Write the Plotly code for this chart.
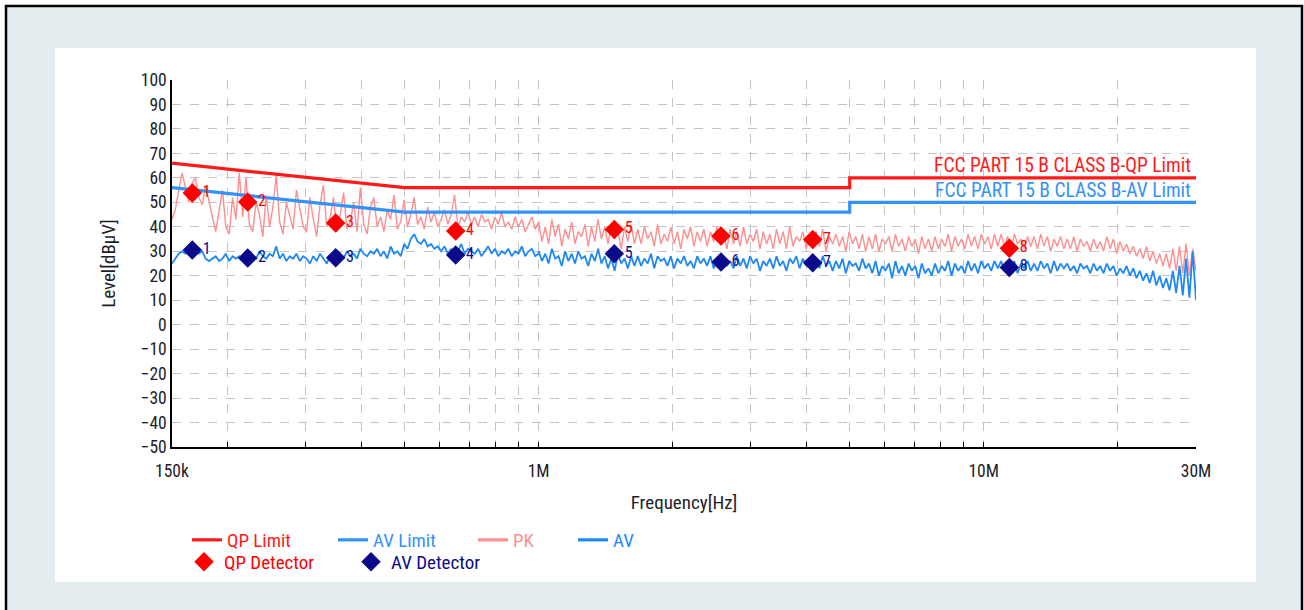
import numpy as np
import plotly.graph_objects as go

# ---------------- data ----------------
# limit lines (frequency in Hz, level in dBuV)
limit_freq = [150e3, 500e3, 5e6, 5e6, 30e6]
qp_limit = [66, 56, 56, 60, 60]
av_limit = [56, 46, 46, 50, 50]

# sweep grid: low band 150 kHz - 1 MHz, high band 1 MHz - 30 MHz
freq_low = np.geomspace(150e3, 1e6, 110)
freq_high = np.geomspace(1e6, 30e6, 200)

pk_low = [
    43, 47, 55, 62, 56, 50, 58, 60, 52, 49,
    57, 50, 44, 38, 46, 55, 40, 37, 52, 43,
    62, 44, 60, 41, 38, 50, 45, 36, 53, 40,
    48, 61, 42, 37, 50, 44, 39, 55, 47, 40,
    38, 52, 43, 36, 49, 57, 40, 44, 52, 38,
    45, 54, 39, 42, 50, 38, 56, 41, 37, 48,
    52, 40, 44, 38, 47, 43, 53, 39, 42, 51,
    40, 45, 52, 41, 44, 39, 48, 42, 46, 40,
    43, 47, 41, 45, 53, 40, 44, 42, 46, 41,
    44, 40, 45, 42, 43, 39, 44, 41, 46, 40,
    42, 39, 44, 40, 43, 38, 41, 44, 39, 42,
]
pk_high = [
    42, 34, 40, 33, 43, 36, 41, 32, 39, 35,
    42, 33, 38, 36, 41, 32, 40, 34, 43, 35,
    40, 33, 41, 35, 38, 31, 40, 34, 41, 33,
    39, 33, 40, 35, 38, 32, 41, 33, 37, 34,
    40, 33, 38, 31, 39, 35, 40, 32, 38, 34,
    39, 32, 38, 34, 40, 33, 37, 31, 39, 33,
    38, 32, 40, 33, 37, 34, 39, 31, 38, 33,
    37, 31, 39, 33, 38, 31, 40, 32, 36, 34,
    38, 31, 37, 33, 38, 32, 39, 30, 36, 33,
    37, 32, 36, 30, 38, 33, 36, 31, 37, 30,
    36, 31, 37, 30, 35, 33, 36, 30, 37, 32,
    35, 30, 36, 32, 35, 29, 36, 31, 35, 30,
    36, 31, 35, 32, 37, 30, 36, 32, 35, 31,
    37, 32, 36, 31, 37, 33, 36, 31, 37, 32,
    37, 32, 36, 30, 37, 33, 35, 31, 36, 32,
    36, 31, 37, 32, 36, 30, 35, 32, 36, 31,
    35, 31, 36, 30, 35, 32, 34, 30, 35, 31,
    34, 30, 36, 31, 35, 29, 34, 30, 33, 29,
    32, 28, 31, 27, 32, 26, 30, 25, 29, 24,
    29, 23, 31, 22, 32, 21, 33, 20, 31, 22,
]

av_low = [
    25, 27, 29, 30, 29, 30, 31, 30, 29, 30,
    27, 26, 27, 28, 26, 27, 29, 26, 28, 27,
    28, 27, 29, 26, 28, 27, 30, 28, 27, 29,
    28, 32, 27, 29, 26, 28, 27, 29, 26, 28,
    27, 25, 28, 26, 29, 27, 25, 28, 26, 27,
    29, 27, 30, 28, 29, 27, 31, 29, 28, 30,
    29, 31, 28, 30, 27, 32, 29, 30, 28, 33,
    31, 35, 37, 34, 33, 35, 32, 33, 31, 32,
    30, 32, 29, 31, 28, 30, 33, 29, 31, 30,
    29, 31, 28, 30, 32, 29, 31, 28, 30, 29,
    31, 28, 30, 29, 32, 28, 30, 31, 28, 29,
]
av_high = [
    30, 26, 29, 25, 31, 27, 28, 24, 30, 26,
    29, 25, 30, 27, 28, 24, 29, 26, 31, 25,
    28, 23, 27, 22, 29, 25, 27, 23, 28, 24,
    28, 24, 27, 25, 29, 23, 28, 26, 27, 24,
    28, 23, 27, 25, 28, 24, 26, 23, 28, 25,
    27, 24, 28, 23, 27, 25, 28, 24, 26, 23,
    28, 24, 27, 23, 28, 25, 27, 22, 26, 24,
    27, 23, 28, 24, 26, 22, 27, 25, 28, 23,
    27, 24, 26, 22, 27, 23, 28, 24, 26, 22,
    26, 23, 27, 21, 26, 24, 25, 22, 27, 23,
    25, 21, 26, 20, 24, 22, 25, 19, 26, 21,
    24, 20, 25, 22, 24, 19, 25, 21, 23, 20,
    25, 21, 24, 22, 26, 20, 25, 22, 24, 21,
    26, 22, 25, 21, 26, 23, 25, 22, 26, 23,
    26, 22, 25, 23, 26, 21, 25, 23, 26, 22,
    25, 22, 26, 23, 25, 21, 26, 22, 25, 23,
    25, 22, 24, 21, 25, 23, 24, 21, 25, 22,
    24, 21, 25, 22, 24, 20, 23, 21, 24, 20,
    23, 19, 22, 18, 21, 17, 22, 16, 20, 15,
    19, 14, 22, 13, 24, 12, 27, 11, 30, 10,
]

# final detector readings
det_freq = [166.6e3, 221.9e3, 349.9e3, 651e3, 1.479e6, 2.569e6, 4.129e6, 11.42e6]
qp_det = [53.8, 50.1, 41.6, 38.3, 38.9, 36.2, 34.8, 31.2]
av_det = [30.5, 27.2, 27.4, 28.5, 29.0, 25.6, 25.3, 23.4]
det_labels = ["1", "2", "3", "4", "5", "6", "7", "8"]

x_tickvals = [150e3, 200e3, 300e3, 400e3, 500e3, 600e3, 700e3, 800e3, 900e3,
              1e6, 2e6, 3e6, 4e6, 5e6, 6e6, 7e6, 8e6, 9e6, 10e6, 20e6, 30e6]
x_ticktext = ["150k", "", "", "", "", "", "", "", "",
              "1M", "", "", "", "", "", "", "", "", "10M", "", "30M"]
y_tickvals = list(range(-50, 101, 10))

# ---------------- style ----------------
FONT = "Liberation Sans Narrow, Arial Narrow, Roboto Condensed, Liberation Sans, Arial, sans-serif"
C_QP = "#ff1a1a"
C_AVL = "#3392f5"
C_PK = "#ff8f8f"
C_AV = "#1f88f5"
C_QPD = "#ff0000"
C_AVD = "#0a0a8a"
C_TXT = "#1e1e2a"

PX_L, PX_R, PX_T, PX_B = 172, 1196, 80, 447
W, H = 1304, 610
PW, PH = PX_R - PX_L, PX_B - PX_T


def px(xp):
    return (xp - PX_L) / PW


def py(yp):
    return (PX_B - yp) / PH


freq_pk = list(freq_low) + list(freq_high)

fig = go.Figure()
fig.add_trace(go.Scatter(x=freq_pk, y=pk_low + pk_high, mode="lines", name="PK",
                         line=dict(color=C_PK, width=1.4), showlegend=False))
fig.add_trace(go.Scatter(x=freq_pk, y=av_low + av_high, mode="lines", name="AV",
                         line=dict(color=C_AV, width=1.8), showlegend=False))
fig.add_trace(go.Scatter(x=limit_freq, y=qp_limit, mode="lines", name="QP Limit",
                         line=dict(color=C_QP, width=3.2), legend="legend"))
fig.add_trace(go.Scatter(x=limit_freq, y=av_limit, mode="lines", name="AV Limit",
                         line=dict(color=C_AVL, width=3.2), legend="legend2"))
# legend entries for the measured traces (drawn with the thicker legend stroke)
fig.add_trace(go.Scatter(x=[None], y=[None], mode="lines", name="PK",
                         line=dict(color=C_PK, width=3.2), legend="legend3"))
fig.add_trace(go.Scatter(x=[None], y=[None], mode="lines", name="AV",
                         line=dict(color=C_AV, width=3.2), legend="legend4"))
fig.add_trace(go.Scatter(x=det_freq, y=qp_det, mode="markers+text", name="QP Detector",
                         marker=dict(symbol="diamond", size=15, color=C_QPD),
                         text=det_labels, textposition="middle right",
                         textfont=dict(family=FONT, size=16, color=C_QPD),
                         legend="legend5"))
fig.add_trace(go.Scatter(x=det_freq, y=av_det, mode="markers+text", name="AV Detector",
                         marker=dict(symbol="diamond", size=15, color=C_AVD),
                         text=det_labels, textposition="middle right",
                         textfont=dict(family=FONT, size=16, color=C_AVD),
                         legend="legend6"))

# legends, one per entry, placed like the original two-row legend
leg_common = dict(orientation="h", xanchor="left", yanchor="middle",
                  bgcolor="rgba(0,0,0,0)", borderwidth=0, itemwidth=30,
                  tracegroupgap=0)
legend_pos = {
    "legend": (187, 540, C_QP),
    "legend2": (333, 540, C_AVL),
    "legend3": (473, 540, C_PK),
    "legend4": (573, 540, C_AV),
    "legend5": (184, 562, C_QPD),
    "legend6": (351, 562, C_AVD),
}
legend_layout = {}
for key, (lx, ly, col) in legend_pos.items():
    legend_layout[key] = dict(x=px(lx), y=py(ly),
                              font=dict(family=FONT, size=19, color=col),
                              **leg_common)

annotations = [
    dict(text="FCC PART 15 B CLASS B-QP Limit", xref="paper", yref="y",
         x=px(1193), y=60, xanchor="right", yanchor="bottom", yshift=-1,
         showarrow=False, font=dict(family=FONT, size=19.5, color=C_QP)),
    dict(text="FCC PART 15 B CLASS B-AV Limit", xref="paper", yref="y",
         x=px(1193), y=50, xanchor="right", yanchor="bottom", yshift=-2,
         showarrow=False, font=dict(family=FONT, size=19.5, color=C_AVL)),
]

shapes = [
    # outer framed background
    dict(type="rect", xref="paper", yref="paper", layer="below",
         x0=px(6), x1=px(1302), y0=py(614), y1=py(6),
         fillcolor="#e3edf0", line=dict(color="black", width=2.5)),
    # white chart panel
    dict(type="rect", xref="paper", yref="paper", layer="below",
         x0=px(55), x1=px(1256), y0=py(582), y1=py(48),
         fillcolor="white", line=dict(width=0)),
]

fig.update_layout(
    width=W, height=H,
    margin=dict(l=PX_L, r=W - PX_R, t=PX_T, b=H - PX_B, pad=0),
    paper_bgcolor="#ffffff",
    plot_bgcolor="white",
    font=dict(family=FONT, size=17, color=C_TXT),
    showlegend=True,
    shapes=shapes,
    annotations=annotations,
    **legend_layout,
)

fig.update_xaxes(
    type="log",
    range=[np.log10(150e3), np.log10(30e6)],
    tickvals=x_tickvals, ticktext=x_ticktext,
    ticks="inside", ticklen=5, tickcolor="black", tickwidth=1,
    ticklabelstandoff=7,
    showgrid=True, gridcolor="#c4c4c4", griddash="dash", gridwidth=1,
    showline=True, linecolor="black", linewidth=2,
    zeroline=False,
    tickfont=dict(family=FONT, size=17.5, color=C_TXT),
    title=dict(text="Frequency[Hz]", standoff=16,
               font=dict(family=FONT, size=19, color=C_TXT)),
)
fig.update_yaxes(
    range=[-50, 100],
    tickvals=y_tickvals,
    ticks="", showgrid=True, gridcolor="#c4c4c4", griddash="dash", gridwidth=1,
    showline=True, linecolor="black", linewidth=1.5,
    zeroline=False,
    tickfont=dict(family=FONT, size=17.5, color=C_TXT),
    title=dict(text="Level[dBμV]", standoff=20,
               font=dict(family=FONT, size=19, color=C_TXT)),
)

fig.write_html("out.html",
               config={"displayModeBar": False},
               post_script="document.body.style.margin='0px';"
                           "document.body.style.overflow='hidden';")
